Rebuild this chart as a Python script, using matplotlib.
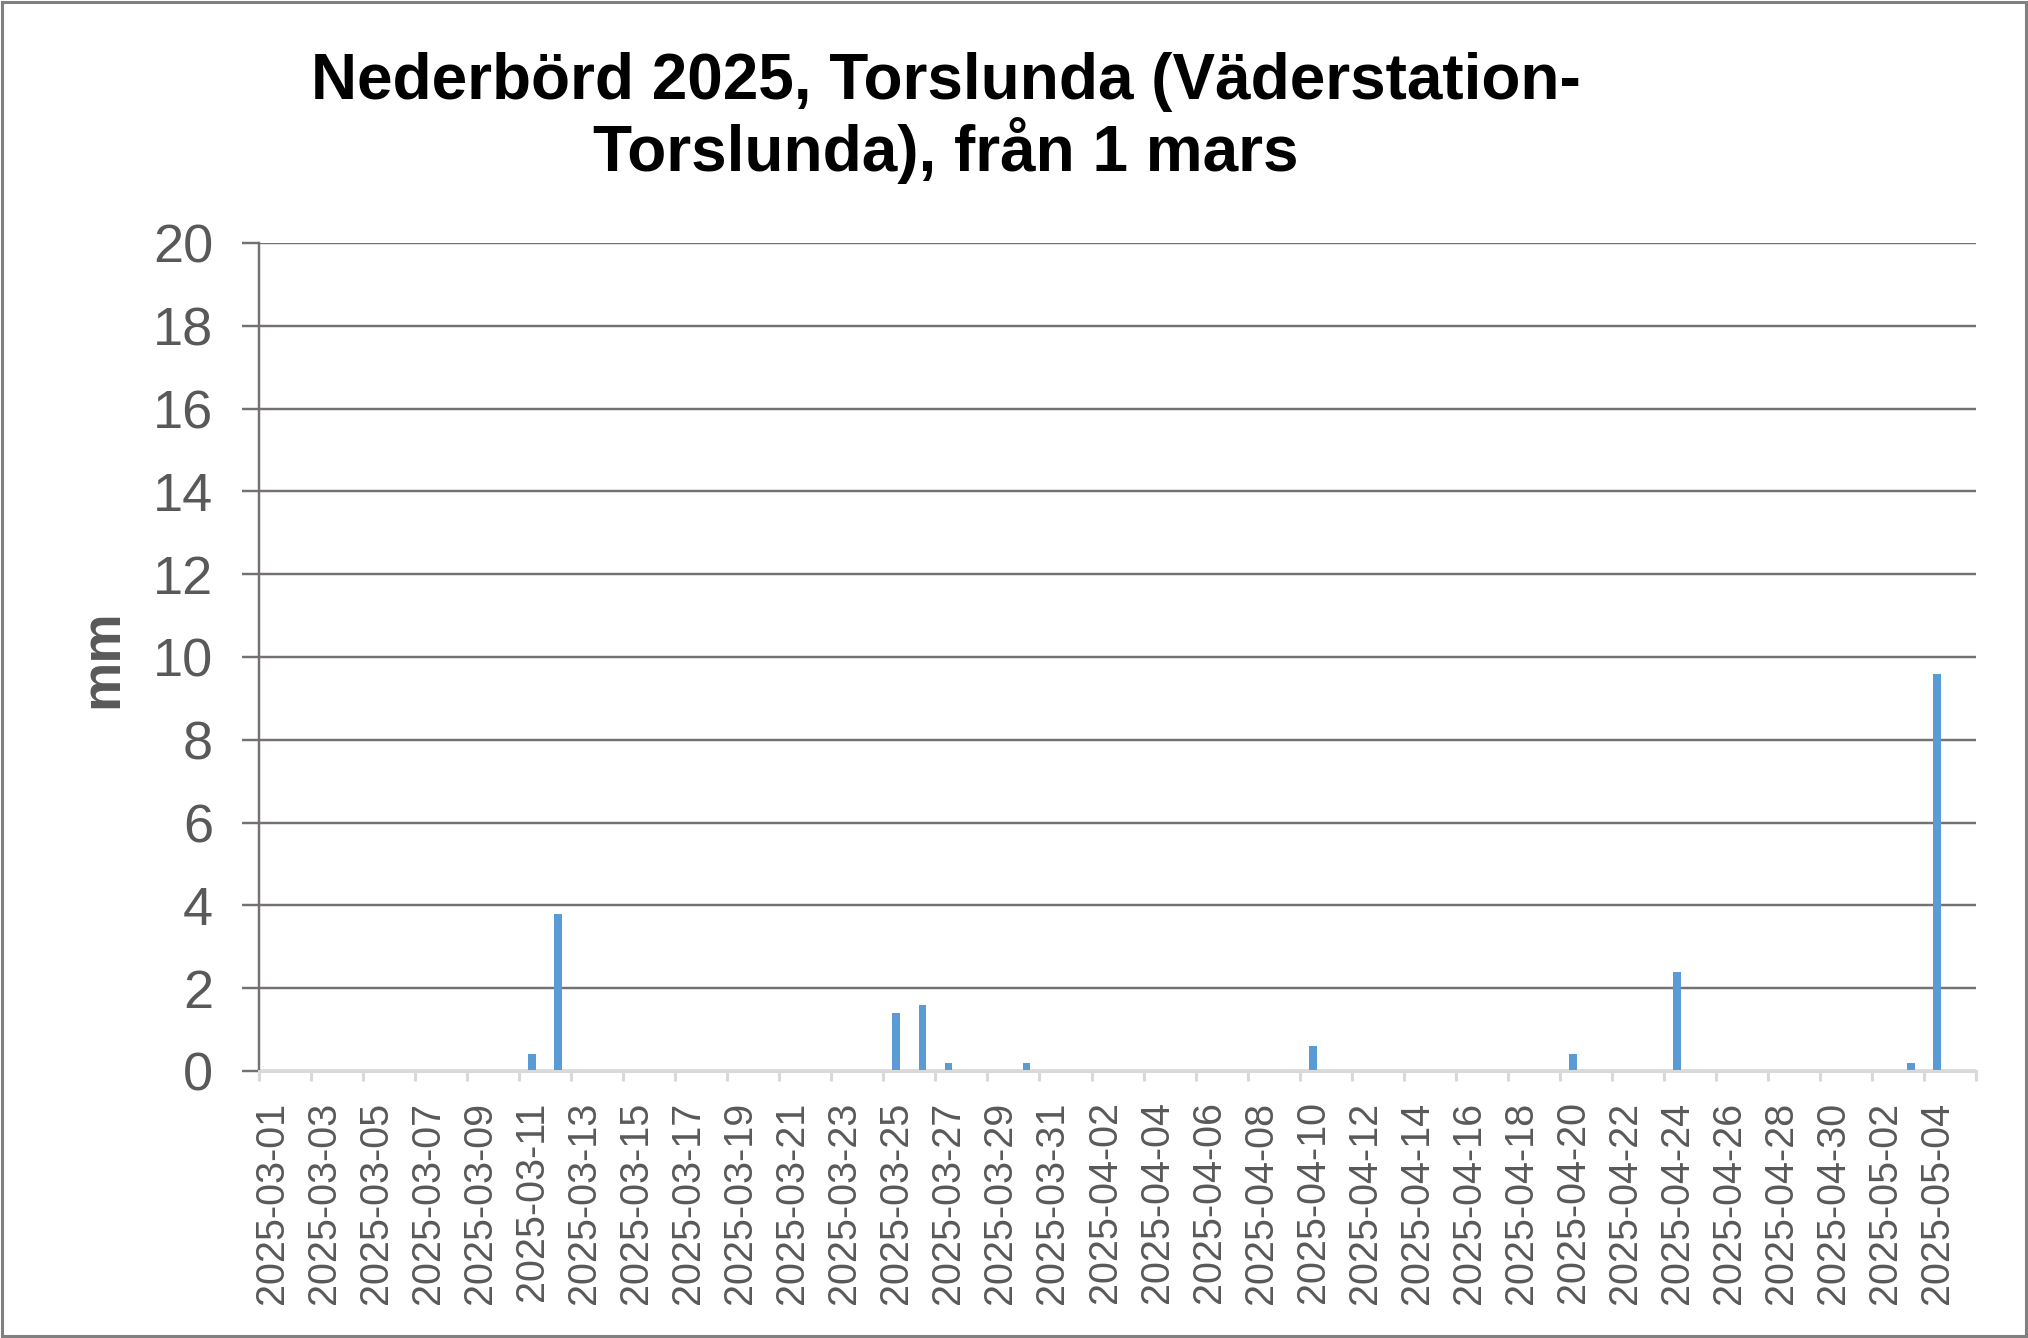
import matplotlib
matplotlib.use("Agg")
import matplotlib.pyplot as plt
import numpy as np
import pandas as pd
from matplotlib.patches import Rectangle

#--------------------------------------------------------------------------
# data
#--------------------------------------------------------------------------

title = "Nederbörd 2025, Torslunda (Väderstation-\nTorslunda), från 1 mars"
ylabel = "mm"

start_date = "2025-03-01"
end_date = "2025-05-05"

# daily precipitation (mm), 1 mars - 5 maj
rain_mars = [0, 0, 0, 0, 0, 0, 0, 0, 0, 0,
             0.4, 3.8, 0, 0, 0, 0, 0, 0, 0, 0,
             0, 0, 0, 0, 1.4, 1.6, 0.2, 0, 0, 0.2, 0]
rain_april = [0, 0, 0, 0, 0, 0, 0, 0, 0, 0.6,
              0, 0, 0, 0, 0, 0, 0, 0, 0, 0.4,
              0, 0, 0, 2.4, 0, 0, 0, 0, 0, 0]
rain_maj = [0, 0, 0.2, 9.6, 0]

y_ticks = [0, 2, 4, 6, 8, 10, 12, 14, 16, 18, 20]

#--------------------------------------------------------------------------
# plot
#--------------------------------------------------------------------------

plt.rcParams['font.family'] = ['Liberation Sans', 'DejaVu Sans']

rain_mm = rain_mars + rain_april + rain_maj
dates = pd.date_range(start_date, end_date, freq="D").strftime("%Y-%m-%d")
x = np.arange(len(dates))

fig = plt.figure(figsize=(20.28, 13.38), dpi=100)
ax = fig.add_axes([0.1277, 0.1996, 0.8467, 0.6188])

ax.bar(x, rain_mm, width=0.3, color="#5b9bd5", zorder=2)

ax.set_xlim(-0.5, len(dates) - 0.5)
ax.set_ylim(0, 20)

grid_col = "#767171"

# y axis
ax.set_yticks(y_ticks)
ax.yaxis.grid(True, color=grid_col, lw=1.75)
ax.set_axisbelow(True)
ax.tick_params(axis="y", labelsize=39, labelcolor="#595959", color=grid_col,
               length=12, width=1.75, pad=21)

# x axis: label every other day, tick marks between categories
ax.set_xticks(x[::2])
ax.set_xticklabels(dates[::2], rotation=90)
ax.set_xticks(np.arange(-0.5, len(dates) + 0.5, 2), minor=True)
ax.tick_params(axis="x", which="major", length=0, labelsize=28.5,
               labelcolor="#595959", pad=22)
ax.tick_params(axis="x", which="minor", length=7, width=2.2, color="#d9d9d9")

for side in ["top", "right"]:
    ax.spines[side].set_visible(False)
ax.spines["left"].set_color(grid_col)
ax.spines["left"].set_linewidth(1.75)
ax.spines["bottom"].set_color("#d9d9d9")
ax.spines["bottom"].set_linewidth(2.2)
ax.spines["bottom"].set_zorder(3)

# titles
fig.text(0.4665, 0.9118, title, ha="center", va="center", fontsize=46,
         fontweight="bold", linespacing=1.08)
fig.text(0.0508, 0.508, ylabel, ha="center", va="center", rotation=90,
         fontsize=40, fontweight="bold", color="#595959")

# chart border
fig.patches.append(Rectangle((0.001, 0.0015), 0.998, 0.997, transform=fig.transFigure,
                             fill=False, edgecolor="#808080", lw=2.2))

fig.savefig("out.png", dpi=100)
